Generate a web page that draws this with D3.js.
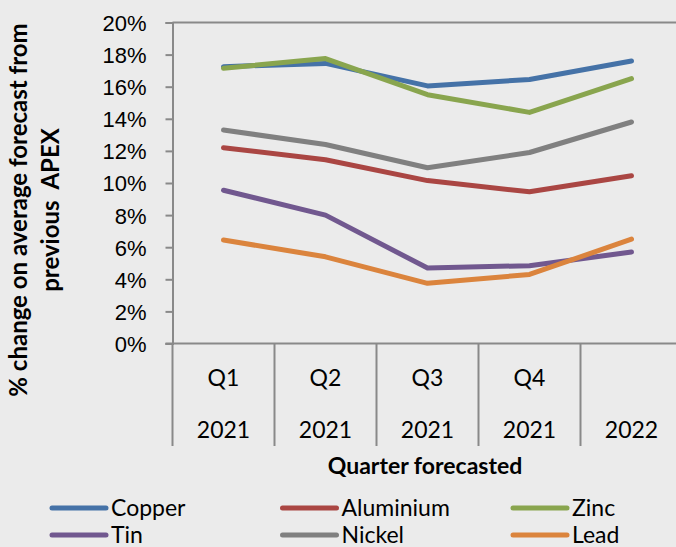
<!DOCTYPE html>
<html>
<head>
<meta charset="utf-8">
<script src="https://cdn.jsdelivr.net/npm/d3@7"></script>
<style>
  body { margin: 0; background: #ebebeb; }
  svg { display: block; font-family: Lato, "Open Sans", sans-serif; }
</style>
</head>
<body>
<div id="chart"></div>
<script>
// quarters and years (two-row category labels)
var quarters = ["Q1", "Q2", "Q3", "Q4", ""];
var years = ["2021", "2021", "2021", "2021", "2022"];

// % change on average forecast, per metal
var copper    = [17.25, 17.45, 16.05, 16.45, 17.6];
var aluminium = [12.2, 11.45, 10.15, 9.45, 10.45];
var zinc      = [17.15, 17.75, 15.5, 14.4, 16.5];
var tin       = [9.55, 8.0, 4.7, 4.85, 5.7];
var nickel    = [13.3, 12.4, 10.95, 11.9, 13.8];
var lead      = [6.45, 5.4, 3.75, 4.3, 6.5];

var yTicks = [0, 2, 4, 6, 8, 10, 12, 14, 16, 18, 20];

var seriesNames = ["Copper", "Aluminium", "Zinc", "Tin", "Nickel", "Lead"];
var seriesValues = [copper, aluminium, zinc, tin, nickel, lead];
var colors = ["#4572a7", "#aa4643", "#89a54e", "#71588f", "#808080", "#db843d"];

var width = 676, height = 547;
var axisColor = "#898989";

var svg = d3.select("#chart").append("svg")
  .attr("width", width)
  .attr("height", height);

svg.append("rect").attr("width", width).attr("height", height).attr("fill", "#ebebeb");

var cats = d3.range(quarters.length);

var x = d3.scaleBand()
  .domain(cats)
  .range([172.5, 682.5])
  .padding(0);

var y = d3.scaleLinear()
  .domain([0, 20])
  .range([343.5, 22.5]);

// top border of plot area
svg.append("line")
  .attr("x1", 172.5).attr("x2", width)
  .attr("y1", y(20)).attr("y2", y(20))
  .attr("stroke", axisColor).attr("stroke-width", 2);

// y axis
var yAxis = svg.append("g")
  .attr("transform", "translate(172.5,0)")
  .call(d3.axisLeft(y).tickValues(yTicks).tickSize(7).tickPadding(19).tickFormat(function(d) { return d + "%"; }));
yAxis.select(".domain").attr("stroke", axisColor).attr("stroke-width", 2);
yAxis.selectAll(".tick line").attr("stroke", axisColor).attr("stroke-width", 2);
yAxis.selectAll(".tick text").attr("fill", "#000").style("font-size", "22px").attr("dy", "0.36em");

// x axis baseline + category dividers
svg.append("line")
  .attr("x1", 165.5).attr("x2", width)
  .attr("y1", y(0)).attr("y2", y(0))
  .attr("stroke", axisColor).attr("stroke-width", 2);

svg.selectAll(".divider")
  .data(cats)
  .enter().append("line")
  .attr("class", "divider")
  .attr("x1", function(d) { return x(d); })
  .attr("x2", function(d) { return x(d); })
  .attr("y1", y(0)).attr("y2", 446)
  .attr("stroke", axisColor).attr("stroke-width", 2);

svg.selectAll(".qlabel")
  .data(cats)
  .enter().append("text")
  .attr("class", "qlabel")
  .attr("x", function(d) { return x(d) + x.bandwidth() / 2; })
  .attr("y", 386)
  .attr("text-anchor", "middle")
  .style("font-size", "23px")
  .text(function(d) { return quarters[d]; });

svg.selectAll(".ylabel")
  .data(cats)
  .enter().append("text")
  .attr("class", "ylabel")
  .attr("x", function(d) { return x(d) + x.bandwidth() / 2; })
  .attr("y", 438)
  .attr("text-anchor", "middle")
  .style("font-size", "23px")
  .text(function(d) { return years[d]; });

// lines
var line = d3.line()
  .x(function(d, i) { return x(i) + x.bandwidth() / 2; })
  .y(function(d) { return y(d); });

svg.selectAll(".series")
  .data(seriesValues)
  .enter().append("path")
  .attr("class", "series")
  .attr("d", line)
  .attr("fill", "none")
  .attr("stroke", function(d, i) { return colors[i]; })
  .attr("stroke-width", 5)
  .attr("stroke-linecap", "round")
  .attr("stroke-linejoin", "round");

// axis titles
svg.append("text")
  .attr("x", 425).attr("y", 474)
  .attr("text-anchor", "middle")
  .style("font-size", "23px").style("font-weight", "bold")
  .text("Quarter forecasted");

var yTitle = svg.append("text")
  .attr("transform", "translate(0,210) rotate(-90)")
  .attr("text-anchor", "middle")
  .style("font-size", "24px").style("font-weight", "bold")
  .style("white-space", "pre");
yTitle.append("tspan").attr("x", 0).attr("y", 27).text("% change on average forecast from");
yTitle.append("tspan").attr("x", 0).attr("y", 59).text("previous  APEX");

// legend
var legend = svg.selectAll(".legend")
  .data(seriesNames)
  .enter().append("g")
  .attr("class", "legend")
  .attr("transform", function(d, i) {
    return "translate(" + (52 + (i % 3) * 230.5) + "," + (508 + Math.floor(i / 3) * 27) + ")";
  });

legend.append("line")
  .attr("x1", 0).attr("x2", 54)
  .attr("stroke", function(d, i) { return colors[i]; })
  .attr("stroke-width", 5)
  .attr("stroke-linecap", "round");

legend.append("text")
  .attr("x", 59).attr("y", 0).attr("dy", "0.36em")
  .style("font-size", "23px")
  .text(function(d) { return d; });
</script>
</body>
</html>
